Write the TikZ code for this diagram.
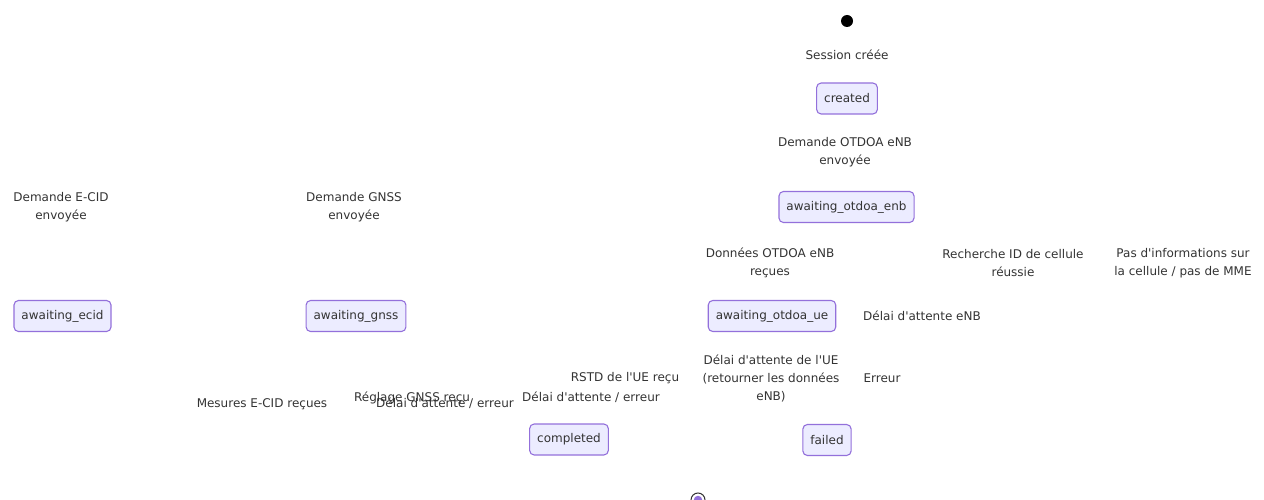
\documentclass[tikz,border=0pt]{standalone}
\usepackage{fontspec}
% straight apostrophes: no TeX-style quote mapping
\setmainfont{DejaVu Sans}[Ligatures=TeXOff]
\definecolor{stfill}{HTML}{ECECFF}
\definecolor{ststroke}{HTML}{9370DB}
\definecolor{txt}{HTML}{333333}
\tikzset{
  state/.style={draw=ststroke, fill=stfill, line width=1.1pt, rounded corners=4.5pt,
    minimum height=31pt, inner xsep=7.5pt, inner ysep=0pt, text=txt,
    font=\fontsize{12}{18}\selectfont},
  lbl/.style={inner sep=0pt, align=center, text=txt, font=\fontsize{12}{18}\selectfont},
  startdot/.style={circle, fill=black, minimum size=12pt, inner sep=0pt},
  endring/.style={circle, draw=txt, fill=white, line width=1pt, minimum size=14pt, inner sep=0pt},
  endcore/.style={circle, fill=ststroke, minimum size=8.5pt, inner sep=0pt},
}
\begin{document}
\begin{tikzpicture}[x=1pt, y=-1pt]
\useasboundingbox (0,0) rectangle (1264,500);

% initial and final pseudo-states
\node[startdot] (start) at (847,21) {};
\node[endring] (stop) at (698,500) {};
\node[endcore] (stopcore) at (stop.center) {};

% states
\node[state] (created) at (847,98.5) {created};
\node[state] (enb) at (846.5,207) {awaiting\_otdoa\_enb};
\node[state] (ecid) at (62.5,316) {awaiting\_ecid};
\node[state] (gnss) at (356,316) {awaiting\_gnss};
\node[state] (ue) at (772,316) {awaiting\_otdoa\_ue};
\node[state] (completed) at (569,439.5) {completed};
\node[state] (failed) at (827,440) {failed};

% transition labels
\node[lbl] (l1) at (847,55) {Session créée};
\node[lbl] (l2) at (845,152) {Demande OTDOA eNB\\envoyée};
\node[lbl] (l3) at (61,207) {Demande E-CID\\envoyée};
\node[lbl] (l4) at (354,207) {Demande GNSS\\envoyée};
\node[lbl] (l5) at (770,263) {Données OTDOA eNB\\reçues};
\node[lbl] (l6) at (1013,263) {Recherche ID de cellule\\réussie};
\node[lbl] (l7) at (1183,263) {Pas d'informations sur\\la cellule / pas de MME};
\node[lbl] (l8) at (922,316) {Délai d'attente eNB};
\node[lbl] (l9) at (771,378) {Délai d'attente de l'UE\\(retourner les données\\eNB)};
\node[lbl] (l10) at (882,378) {Erreur};
\node[lbl] (l11) at (625,378) {RSTD de l'UE reçu};
\node[lbl] (l12) at (591,397) {Délai d'attente / erreur};
\node[lbl] (l13) at (412,398) {Réglage GNSS reçu};
\node[lbl] (l14) at (445,403) {Délai d'attente / erreur};
\node[lbl] (l15) at (262,404) {Mesures E-CID reçues};
\end{tikzpicture}
\end{document}
